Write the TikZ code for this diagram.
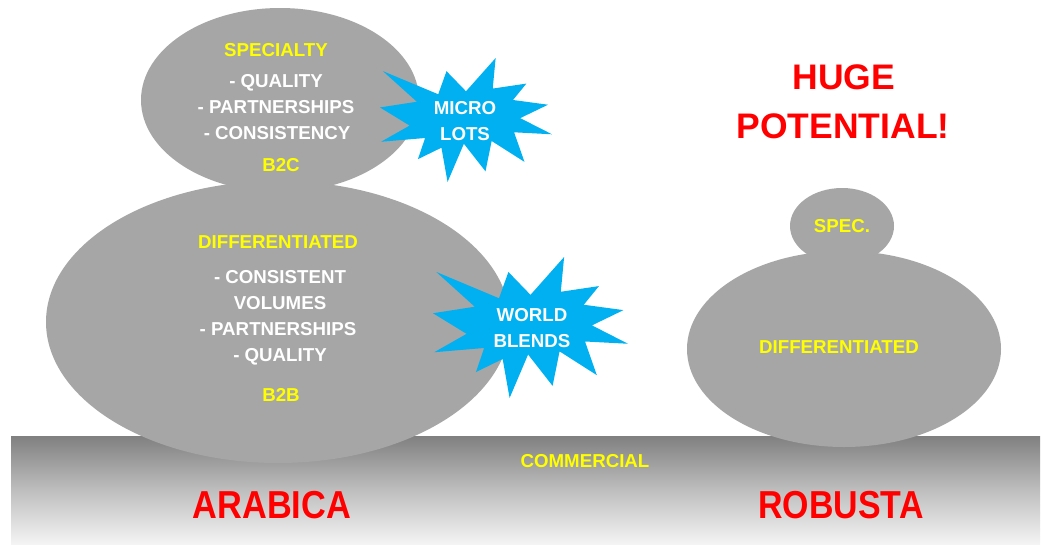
\documentclass[tikz,border=0pt]{standalone}
\usepackage{fontspec}
\usepackage{graphicx}
\setmainfont{Liberation Sans}
\usetikzlibrary{shapes.geometric}
\definecolor{blob}{HTML}{A6A6A6}
\definecolor{starblue}{HTML}{00B0F0}
\definecolor{ylw}{HTML}{FFFF00}
\definecolor{rd}{HTML}{FF0000}
\definecolor{bandtop}{HTML}{808080}
\definecolor{bandmid}{HTML}{BEBEBE}
\definecolor{bandbot}{HTML}{F4F4F4}
\newcommand{\explosionpath}{(108,58) -- (145.22,0) -- (141.55,53.25) -- (183.80,44.57) -- (167.02,73.15) -- (210.97,81.37) -- (176.07,104.75) -- (216,132.90) -- (168.37,129.42) -- (181.45,180.95) -- (140.20,144.57) -- (132.47,197.37) -- (105.32,149.35) -- (84.85,216) -- (77.15,156.27) -- (47.62,176.17) -- (56.67,139.37) -- (1.35,145.87) -- (37.22,117.75) -- (0,86.15) -- (46.27,76.17) -- (3.70,22.95) -- (73.12,63.20) -- (83.52,22.95) -- cycle}
\tikzset{
  blobshape/.style={ellipse, fill=blob, draw=none, inner sep=0pt},
  txt/.style={font=\bfseries\fontsize{18.7}{20}\selectfont, inner sep=0pt, text height=13.4pt, text depth=0pt},
  wtxt/.style={txt, text=white},
  ytxt/.style={txt, text=ylw},
  bigred/.style={font=\bfseries\fontsize{35.5}{40}\selectfont, text=rd, inner sep=0pt, text height=25.5pt, text depth=0pt},
  namered/.style={font=\bfseries\fontsize{39}{44}\selectfont, text=rd, inner sep=0pt, text height=28pt, text depth=0pt},
  starfill/.style={fill=starblue, draw=none}
}
\begin{document}
\begin{tikzpicture}[x=1pt,y=-1pt]
\useasboundingbox (0,0) rectangle (1046,544);
\fill[white] (0,0) rectangle (1046,544);
% ground band
\shade[top color=bandtop, bottom color=bandbot, middle color=bandmid] (11,436) rectangle (1040,544);
% arabica blobs
\node[blobshape, minimum width=278pt, minimum height=184pt] (spec) at (280,100) {};
\node[blobshape, minimum width=464pt, minimum height=282pt] (diff) at (278,322) {};
% robusta blobs
\node[blobshape, minimum width=104pt, minimum height=76pt] (rspec) at (842,226) {};
\node[blobshape, minimum width=314pt, minimum height=196pt] (rdiff) at (844,349) {};
% stars
\begin{scope}[shift={(380,58)}, xscale=172/216, yscale=124/216]
  \fill[starfill] \explosionpath;
\end{scope}
\begin{scope}[shift={(433,257)}, xscale=195/216, yscale=141/216]
  \fill[starfill] \explosionpath;
\end{scope}
% specialty texts
\node[ytxt] (t1) at (276,50) {SPECIALTY};
\node[wtxt] (t2) at (276,81) {- QUALITY};
\node[wtxt] (t3) at (276,107) {- PARTNERSHIPS};
\node[wtxt] (t4) at (277,133) {- CONSISTENCY};
\node[ytxt] (t5) at (281,165) {B2C};
% differentiated texts
\node[ytxt] (d1) at (278,242) {DIFFERENTIATED};
\node[wtxt] (d2) at (280,277) {- CONSISTENT};
\node[wtxt] (d3) at (280,303) {VOLUMES};
\node[wtxt] (d4) at (278,329) {- PARTNERSHIPS};
\node[wtxt] (d5) at (280,355) {- QUALITY};
\node[ytxt] (d6) at (281,395) {B2B};
% star texts
\node[wtxt] (m1) at (465,108) {MICRO};
\node[wtxt] (m2) at (465,134) {LOTS};
\node[wtxt] (w1) at (532,315) {WORLD};
\node[wtxt] (w2) at (532,341) {BLENDS};
% robusta texts
\node[ytxt] (r1) at (842,226) {SPEC.};
\node[ytxt] (r2) at (839,347) {DIFFERENTIATED};
% commercial
\node[ytxt] (c1) at (585,461) {COMMERCIAL};
% headline
\node[bigred] (h1) at (844,77) {HUGE};
\node[bigred] (h2) at (843,126) {POTENTIAL!};
% names
\node[namered] (n1) at (272,504) {\scalebox{0.88}[1]{ARABICA}};
\node[namered] (n2) at (841,504) {\scalebox{0.87}[1]{ROBUSTA}};
\end{tikzpicture}
\end{document}
